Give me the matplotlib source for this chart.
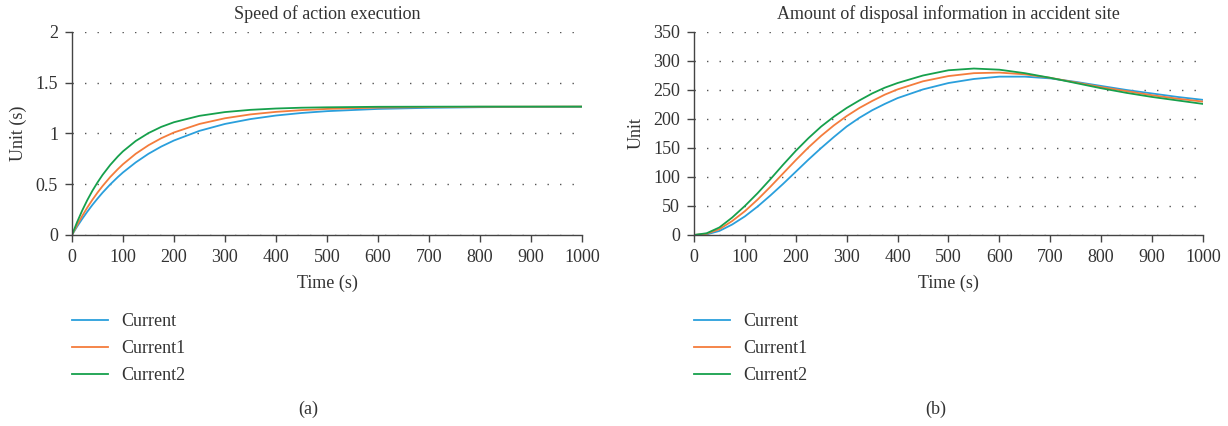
import numpy as np
import matplotlib.pyplot as plt

plt.rcParams['font.family'] = ['Liberation Serif', 'DejaVu Serif']
plt.rcParams['font.size'] = 13
plt.rcParams['text.color'] = '#333333'
plt.rcParams['axes.labelcolor'] = '#333333'
plt.rcParams['xtick.color'] = '#333333'
plt.rcParams['ytick.color'] = '#333333'

labels = ['Current', 'Current1', 'Current2']
colors = ['#2a9fdc', '#f47c3c', '#16a04c']

# (a) speed of action execution
t_a = [0, 10, 20, 30, 40, 50, 60, 75, 90, 100, 125, 150, 175, 200, 250, 300,
       350, 400, 450, 500, 600, 700, 800, 900, 1000]
speed_cur = [0, 0.082, 0.158, 0.229, 0.296, 0.358, 0.417, 0.498, 0.571, 0.616,
             0.715, 0.800, 0.871, 0.931, 1.026, 1.094, 1.142, 1.177, 1.202,
             1.220, 1.242, 1.253, 1.259, 1.262, 1.263]
speed_cur1 = [0, 0.097, 0.187, 0.270, 0.346, 0.417, 0.482, 0.571, 0.649, 0.697,
              0.800, 0.884, 0.953, 1.010, 1.094, 1.150, 1.188, 1.213, 1.230,
              1.242, 1.255, 1.260, 1.263, 1.264, 1.265]
speed_cur2 = [0, 0.126, 0.240, 0.343, 0.435, 0.517, 0.592, 0.690, 0.774, 0.824,
              0.926, 1.004, 1.065, 1.111, 1.174, 1.211, 1.233, 1.246, 1.254,
              1.258, 1.263, 1.264, 1.265, 1.265, 1.265]

# (b) amount of disposal information
t_b = [0, 25, 50, 75, 100, 125, 150, 175, 200, 225, 250, 275, 300, 325, 350,
       375, 400, 450, 500, 550, 600, 650, 700, 750, 800, 850, 900, 950, 1000]
info_cur = [0, 1, 7, 18, 32, 49, 68, 88, 109, 130, 150, 169, 187, 202, 215,
            226, 236, 251, 262, 269, 273, 273, 270, 264, 257, 250, 244, 238, 233]
info_cur1 = [0, 2, 10, 24, 41, 61, 83, 106, 129, 151, 171, 189, 205, 219, 231,
             242, 251, 265, 274, 279, 280, 277, 271, 263, 255, 248, 241, 235, 230]
info_cur2 = [0, 3, 13, 30, 50, 72, 96, 121, 145, 167, 187, 204, 219, 232, 244,
             254, 262, 275, 284, 287, 285, 279, 271, 262, 253, 245, 238, 232, 226]

fig = plt.figure(figsize=(12.28, 4.26), dpi=100)
ax1 = fig.add_axes([0.0586, 0.4484, 0.4153, 0.4765])
ax2 = fig.add_axes([0.5651, 0.4484, 0.4145, 0.4765])


def style(ax, title, ylabel, ymax, ystep):
    for s in ['top', 'right']:
        ax.spines[s].set_visible(False)
    for s in ['left', 'bottom']:
        ax.spines[s].set_color('#444444')
        ax.spines[s].set_linewidth(1.0)
    ax.set_xlim(0, 1000)
    ax.set_ylim(0, ymax)
    ax.set_xticks(np.arange(0, 1001, 100))
    ax.set_yticks(np.arange(0, ymax + ystep / 2, ystep))
    ax.tick_params(direction='out', length=5, width=1, color='#444444', pad=5)
    ax.yaxis.grid(True, linestyle=(0, (1, 8)), color='#555555', linewidth=1)
    ax.set_axisbelow(True)
    ax.set_title(title, fontsize=13, pad=9)
    ax.set_xlabel('Time (s)', labelpad=6)
    ax.set_ylabel(ylabel, labelpad=6)
    ax.legend(loc='upper left', bbox_to_anchor=(0, -0.385), frameon=False,
              borderaxespad=0, borderpad=0, handlelength=2.0,
              handletextpad=0.75, labelspacing=0.55)


for y, lab, c in zip([speed_cur, speed_cur1, speed_cur2], labels, colors):
    ax1.plot(t_a, y, color=c, lw=1.3, label=lab)
for y, lab, c in zip([info_cur, info_cur1, info_cur2], labels, colors):
    ax2.plot(t_b, y, color=c, lw=1.3, label=lab)

style(ax1, 'Speed of action execution', 'Unit (s)', 2, 0.5)
ax1.set_yticklabels(['0', '0.5', '1', '1.5', '2'])
style(ax2, 'Amount of disposal information in accident site', 'Unit', 350, 50)

fig.text(0.251, 0.04, '(a)', ha='center', va='center', fontsize=13)
fig.text(0.762, 0.04, '(b)', ha='center', va='center', fontsize=13)

fig.savefig('out.png', dpi=100)
